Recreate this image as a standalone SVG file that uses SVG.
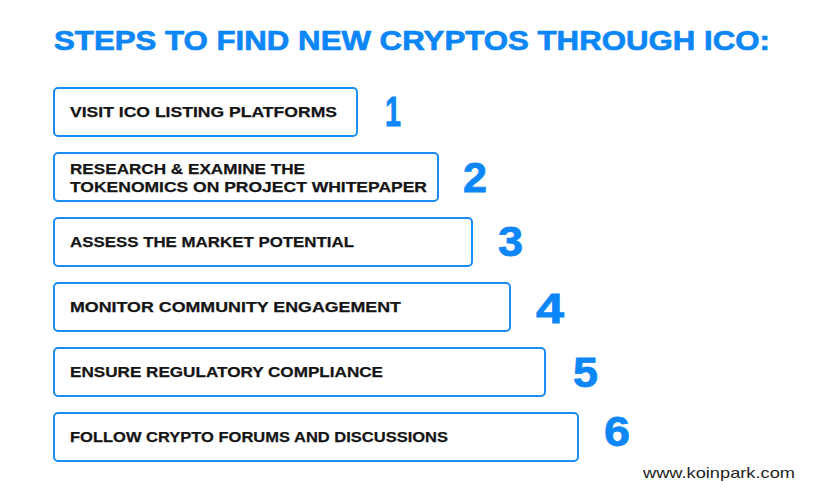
<svg xmlns="http://www.w3.org/2000/svg" width="825" height="500" viewBox="0 0 825 500">
<style>
.title{font-family:"Liberation Sans",Arial,sans-serif;font-weight:bold;font-size:28px;fill:#0d87f7;stroke:#0d87f7;stroke-width:0.7}
.box{fill:#fff;stroke:#1c8cf5;stroke-width:2}
.lbl{font-family:"Liberation Sans",Arial,sans-serif;font-weight:bold;font-size:15.5px;fill:#141414;stroke:#141414;stroke-width:0.25}
.num{font-family:"Liberation Sans",Arial,sans-serif;font-weight:bold;font-size:42px;fill:#0d87f7;stroke:#0d87f7;stroke-width:0.8}
.url{font-family:"Liberation Sans",Arial,sans-serif;font-size:15px;fill:#222}
</style>
<rect width="825" height="500" fill="#fff"/>
<text class="title" x="54" y="50" textLength="716" lengthAdjust="spacingAndGlyphs">STEPS TO FIND NEW CRYPTOS THROUGH ICO:</text>
<g id="connectors"/>
<g id="step1">
<rect class="box" x="54" y="88" width="303" height="48" rx="4"/>
<text class="lbl" x="70" y="117" textLength="267" lengthAdjust="spacingAndGlyphs">VISIT ICO LISTING PLATFORMS</text>
<text class="num" x="385" y="126" textLength="16" lengthAdjust="spacingAndGlyphs">1</text>
</g>
<g id="step2">
<rect class="box" x="54" y="153" width="384" height="48" rx="4"/>
<text class="lbl" x="70" y="174" textLength="235" lengthAdjust="spacingAndGlyphs">RESEARCH &amp; EXAMINE THE</text>
<text class="lbl" x="70" y="192" textLength="357" lengthAdjust="spacingAndGlyphs">TOKENOMICS ON PROJECT WHITEPAPER</text>
<text class="num" x="463" y="192" textLength="24" lengthAdjust="spacingAndGlyphs">2</text>
</g>
<g id="step3">
<rect class="box" x="54" y="218" width="418" height="48" rx="4"/>
<text class="lbl" x="70" y="247" textLength="284" lengthAdjust="spacingAndGlyphs">ASSESS THE MARKET POTENTIAL</text>
<text class="num" x="498" y="256" textLength="25" lengthAdjust="spacingAndGlyphs">3</text>
</g>
<g id="step4">
<rect class="box" x="54" y="283" width="456" height="48" rx="4"/>
<text class="lbl" x="70" y="312" textLength="331" lengthAdjust="spacingAndGlyphs">MONITOR COMMUNITY ENGAGEMENT</text>
<text class="num" x="536" y="323" textLength="28" lengthAdjust="spacingAndGlyphs">4</text>
</g>
<g id="step5">
<rect class="box" x="54" y="348" width="491" height="48" rx="4"/>
<text class="lbl" x="70" y="377" textLength="313" lengthAdjust="spacingAndGlyphs">ENSURE REGULATORY COMPLIANCE</text>
<text class="num" x="573" y="387" textLength="25" lengthAdjust="spacingAndGlyphs">5</text>
</g>
<g id="step6">
<rect class="box" x="54" y="413" width="524" height="48" rx="4"/>
<text class="lbl" x="70" y="442" textLength="378" lengthAdjust="spacingAndGlyphs">FOLLOW CRYPTO FORUMS AND DISCUSSIONS</text>
<text class="num" x="604" y="446" textLength="26" lengthAdjust="spacingAndGlyphs">6</text>
</g>
<text class="url" x="643" y="478" textLength="152" lengthAdjust="spacingAndGlyphs">www.koinpark.com</text>
</svg>
